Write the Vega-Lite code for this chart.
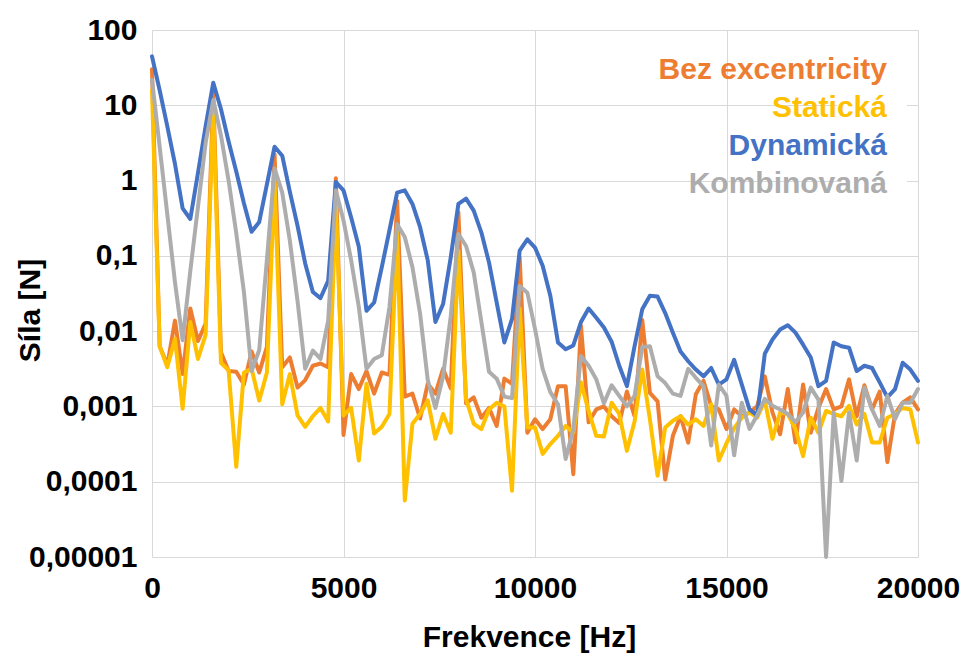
{
  "$schema": "https://vega.github.io/schema/vega-lite/v6.json",
  "width": 766,
  "height": 527,
  "autosize": {"type": "none"},
  "padding": {"left": 152, "top": 30, "right": 47, "bottom": 102},
  "background": "white",
  "config": {"view": {"stroke": null}, "font": "Liberation Sans"},
  "data": {
    "values": [
      {"f": 0, "Bez excentricity": 30.2, "Statická": 15.85, "Dynamická": 44.7, "Kombinovaná": 21.9},
      {"f": 200, "Bez excentricity": 6.31e-3, "Statická": 6.31e-3, "Dynamická": 15.85, "Kombinovaná": 2.82},
      {"f": 400, "Bez excentricity": 3.55e-3, "Statická": 3.31e-3, "Dynamická": 5.25, "Kombinovaná": 0.355},
      {"f": 600, "Bez excentricity": 1.38e-2, "Statická": 7.94e-3, "Dynamická": 1.66, "Kombinovaná": 4.47e-2},
      {"f": 800, "Bez excentricity": 2.69e-3, "Statická": 9.33e-4, "Dynamická": 0.427, "Kombinovaná": 7.59e-3},
      {"f": 1000, "Bez excentricity": 2.00e-2, "Statická": 1.32e-2, "Dynamická": 0.309, "Kombinovaná": 6.31e-2},
      {"f": 1200, "Bez excentricity": 7.41e-3, "Statická": 4.27e-3, "Dynamická": 1.26, "Kombinovaná": 0.447},
      {"f": 1400, "Bez excentricity": 1.26e-2, "Statická": 8.91e-3, "Dynamická": 5.25, "Kombinovaná": 3.16},
      {"f": 1600, "Bez excentricity": 14.45, "Statická": 9.33, "Dynamická": 19.95, "Kombinovaná": 11.75},
      {"f": 1800, "Bez excentricity": 5.25e-3, "Statická": 3.80e-3, "Dynamická": 8.91, "Kombinovaná": 3.98},
      {"f": 2000, "Bez excentricity": 2.95e-3, "Statická": 3.02e-3, "Dynamická": 3.31, "Kombinovaná": 1.0},
      {"f": 2200, "Bez excentricity": 2.88e-3, "Statická": 1.58e-4, "Dynamická": 1.32, "Kombinovaná": 0.2},
      {"f": 2400, "Bez excentricity": 1.95e-3, "Statická": 2.82e-3, "Dynamická": 0.501, "Kombinovaná": 3.31e-2},
      {"f": 2600, "Bez excentricity": 5.37e-3, "Statická": 3.16e-3, "Dynamická": 0.209, "Kombinovaná": 2.95e-3},
      {"f": 2800, "Bez excentricity": 2.82e-3, "Statická": 1.20e-3, "Dynamická": 0.282, "Kombinovaná": 5.62e-3},
      {"f": 3000, "Bez excentricity": 6.17e-3, "Statická": 2.82e-3, "Dynamická": 0.891, "Kombinovaná": 8.91e-2},
      {"f": 3200, "Bez excentricity": 2.24, "Statická": 1.0, "Dynamická": 2.82, "Kombinovaná": 1.45},
      {"f": 3400, "Bez excentricity": 3.31e-3, "Statická": 1.07e-3, "Dynamická": 2.14, "Kombinovaná": 0.692},
      {"f": 3600, "Bez excentricity": 4.47e-3, "Statická": 2.69e-3, "Dynamická": 0.708, "Kombinovaná": 0.158},
      {"f": 3800, "Bez excentricity": 1.78e-3, "Statická": 7.59e-4, "Dynamická": 0.251, "Kombinovaná": 2.51e-2},
      {"f": 4000, "Bez excentricity": 2.24e-3, "Statická": 5.37e-4, "Dynamická": 7.94e-2, "Kombinovaná": 3.16e-3},
      {"f": 4200, "Bez excentricity": 3.47e-3, "Statická": 7.41e-4, "Dynamická": 3.31e-2, "Kombinovaná": 5.50e-3},
      {"f": 4400, "Bez excentricity": 3.72e-3, "Statická": 9.55e-4, "Dynamická": 2.75e-2, "Kombinovaná": 4.27e-3},
      {"f": 4600, "Bez excentricity": 3.31e-3, "Statická": 6.31e-4, "Dynamická": 4.68e-2, "Kombinovaná": 1.38e-2},
      {"f": 4800, "Bez excentricity": 1.07, "Statická": 0.49, "Dynamická": 0.955, "Kombinovaná": 0.741},
      {"f": 5000, "Bez excentricity": 4.17e-4, "Statická": 7.59e-4, "Dynamická": 0.741, "Kombinovaná": 0.295},
      {"f": 5200, "Bez excentricity": 2.69e-3, "Statická": 9.55e-4, "Dynamická": 0.324, "Kombinovaná": 8.71e-2},
      {"f": 5400, "Bez excentricity": 1.70e-3, "Statická": 1.91e-4, "Dynamická": 0.132, "Kombinovaná": 2.09e-2},
      {"f": 5600, "Bez excentricity": 2.95e-3, "Statická": 2.00e-3, "Dynamická": 1.86e-2, "Kombinovaná": 3.16e-3},
      {"f": 5800, "Bez excentricity": 1.48e-3, "Statická": 4.37e-4, "Dynamická": 2.40e-2, "Kombinovaná": 4.27e-3},
      {"f": 6000, "Bez excentricity": 2.82e-3, "Statická": 5.37e-4, "Dynamická": 7.08e-2, "Kombinovaná": 4.79e-3},
      {"f": 6200, "Bez excentricity": 2.63e-3, "Statická": 7.94e-4, "Dynamická": 0.219, "Kombinovaná": 2.09e-2},
      {"f": 6400, "Bez excentricity": 0.537, "Statická": 0.209, "Dynamická": 0.692, "Kombinovaná": 0.263},
      {"f": 6600, "Bez excentricity": 1.35e-3, "Statická": 5.62e-5, "Dynamická": 0.741, "Kombinovaná": 0.178},
      {"f": 6800, "Bez excentricity": 1.48e-3, "Statická": 5.89e-4, "Dynamická": 0.49, "Kombinovaná": 7.08e-2},
      {"f": 7000, "Bez excentricity": 6.92e-4, "Statická": 7.94e-4, "Dynamická": 0.24, "Kombinovaná": 1.70e-2},
      {"f": 7200, "Bez excentricity": 2.00e-3, "Statická": 1.20e-3, "Dynamická": 8.71e-2, "Kombinovaná": 2.24e-3},
      {"f": 7400, "Bez excentricity": 1.48e-3, "Statická": 3.72e-4, "Dynamická": 1.32e-2, "Kombinovaná": 9.55e-4},
      {"f": 7600, "Bez excentricity": 3.16e-3, "Statická": 7.94e-4, "Dynamická": 2.29e-2, "Kombinovaná": 2.51e-3},
      {"f": 7800, "Bez excentricity": 1.74e-3, "Statická": 4.47e-4, "Dynamická": 9.55e-2, "Kombinovaná": 1.58e-2},
      {"f": 8000, "Bez excentricity": 0.38, "Statická": 0.117, "Dynamická": 0.49, "Kombinovaná": 0.195},
      {"f": 8200, "Bez excentricity": 1.10e-3, "Statická": 1.26e-3, "Dynamická": 0.575, "Kombinovaná": 0.135},
      {"f": 8400, "Bez excentricity": 1.32e-3, "Statická": 5.89e-4, "Dynamická": 0.398, "Kombinovaná": 6.03e-2},
      {"f": 8600, "Bez excentricity": 7.08e-4, "Statická": 5.01e-4, "Dynamická": 0.204, "Kombinovaná": 1.32e-2},
      {"f": 8800, "Bez excentricity": 9.55e-4, "Statická": 9.12e-4, "Dynamická": 8.13e-2, "Kombinovaná": 2.88e-3},
      {"f": 9000, "Bez excentricity": 5.50e-4, "Statická": 1.12e-3, "Dynamická": 2.40e-2, "Kombinovaná": 2.34e-3},
      {"f": 9200, "Bez excentricity": 2.34e-3, "Statická": 1.00e-3, "Dynamická": 7.08e-3, "Kombinovaná": 1.35e-3},
      {"f": 9400, "Bez excentricity": 2.00e-3, "Statická": 7.59e-5, "Dynamická": 1.45e-2, "Kombinovaná": 1.29e-3},
      {"f": 9600, "Bez excentricity": 9.55e-2, "Statická": 2.00e-2, "Dynamická": 0.117, "Kombinovaná": 3.98e-2},
      {"f": 9800, "Bez excentricity": 4.47e-4, "Statická": 5.25e-4, "Dynamická": 0.166, "Kombinovaná": 3.24e-2},
      {"f": 10000, "Bez excentricity": 6.76e-4, "Statická": 5.25e-4, "Dynamická": 0.129, "Kombinovaná": 1.07e-2},
      {"f": 10200, "Bez excentricity": 5.01e-4, "Statická": 2.34e-4, "Dynamická": 7.41e-2, "Kombinovaná": 3.16e-3},
      {"f": 10400, "Bez excentricity": 6.76e-4, "Statická": 3.16e-4, "Dynamická": 2.95e-2, "Kombinovaná": 1.55e-3},
      {"f": 10600, "Bez excentricity": 1.86e-3, "Statická": 4.07e-4, "Dynamická": 7.08e-3, "Kombinovaná": 1.07e-3},
      {"f": 10800, "Bez excentricity": 1.86e-3, "Statická": 5.50e-4, "Dynamická": 5.75e-3, "Kombinovaná": 2.00e-4},
      {"f": 11000, "Bez excentricity": 1.26e-4, "Statická": 4.47e-4, "Dynamická": 6.46e-3, "Kombinovaná": 5.01e-4},
      {"f": 11200, "Bez excentricity": 1.17e-2, "Statická": 2.09e-3, "Dynamická": 1.32e-2, "Kombinovaná": 4.68e-3},
      {"f": 11400, "Bez excentricity": 6.17e-4, "Statická": 8.71e-4, "Dynamická": 2.00e-2, "Kombinovaná": 3.47e-3},
      {"f": 11600, "Bez excentricity": 9.12e-4, "Statická": 4.07e-4, "Dynamická": 1.51e-2, "Kombinovaná": 2.29e-3},
      {"f": 11800, "Bez excentricity": 1.00e-3, "Statická": 3.98e-4, "Dynamická": 1.12e-2, "Kombinovaná": 1.10e-3},
      {"f": 12000, "Bez excentricity": 7.41e-4, "Statická": 1.12e-3, "Dynamická": 7.24e-3, "Kombinovaná": 1.91e-3},
      {"f": 12200, "Bez excentricity": 6.03e-4, "Statická": 7.94e-4, "Dynamická": 3.47e-3, "Kombinovaná": 1.38e-3},
      {"f": 12400, "Bez excentricity": 1.58e-3, "Statická": 2.57e-4, "Dynamická": 1.86e-3, "Kombinovaná": 1.00e-3},
      {"f": 12600, "Bez excentricity": 7.41e-4, "Statická": 6.31e-4, "Dynamická": 6.31e-3, "Kombinovaná": 1.38e-3},
      {"f": 12800, "Bez excentricity": 1.41e-2, "Statická": 3.09e-3, "Dynamická": 1.95e-2, "Kombinovaná": 6.17e-3},
      {"f": 13000, "Bez excentricity": 1.51e-3, "Statická": 6.76e-4, "Dynamická": 2.95e-2, "Kombinovaná": 6.31e-3},
      {"f": 13200, "Bez excentricity": 1.17e-3, "Statická": 1.20e-4, "Dynamická": 2.88e-2, "Kombinovaná": 2.51e-3},
      {"f": 13400, "Bez excentricity": 1.07e-4, "Statická": 5.25e-4, "Dynamická": 1.74e-2, "Kombinovaná": 2.04e-3},
      {"f": 13600, "Bez excentricity": 4.07e-4, "Statická": 6.46e-4, "Dynamická": 9.55e-3, "Kombinovaná": 1.48e-3},
      {"f": 13800, "Bez excentricity": 7.41e-4, "Statická": 7.41e-4, "Dynamická": 5.37e-3, "Kombinovaná": 1.38e-3},
      {"f": 14000, "Bez excentricity": 3.31e-4, "Statická": 5.75e-4, "Dynamická": 3.98e-3, "Kombinovaná": 3.16e-3},
      {"f": 14200, "Bez excentricity": 1.45e-3, "Statická": 6.76e-4, "Dynamická": 3.09e-3, "Kombinovaná": 2.40e-3},
      {"f": 14400, "Bez excentricity": 2.19e-3, "Statická": 5.50e-4, "Dynamická": 2.51e-3, "Kombinovaná": 1.86e-3},
      {"f": 14600, "Bez excentricity": 1.00e-3, "Statická": 1.07e-3, "Dynamická": 3.24e-3, "Kombinovaná": 3.02e-4},
      {"f": 14800, "Bez excentricity": 9.12e-4, "Statická": 1.91e-4, "Dynamická": 1.95e-3, "Kombinovaná": 1.95e-3},
      {"f": 15000, "Bez excentricity": 5.01e-4, "Statická": 3.24e-4, "Dynamická": 2.29e-3, "Kombinovaná": 1.38e-3},
      {"f": 15200, "Bez excentricity": 9.12e-4, "Statická": 5.13e-4, "Dynamická": 4.17e-3, "Kombinovaná": 2.24e-4},
      {"f": 15400, "Bez excentricity": 7.41e-4, "Statická": 7.08e-4, "Dynamická": 1.95e-3, "Kombinovaná": 1.12e-3},
      {"f": 15600, "Bez excentricity": 8.32e-4, "Statická": 8.32e-4, "Dynamická": 9.12e-4, "Kombinovaná": 5.01e-4},
      {"f": 15800, "Bez excentricity": 1.00e-3, "Statická": 7.08e-4, "Dynamická": 7.59e-4, "Kombinovaná": 7.59e-4},
      {"f": 16000, "Bez excentricity": 2.51e-3, "Statická": 1.20e-3, "Dynamická": 5.01e-3, "Kombinovaná": 1.26e-3},
      {"f": 16200, "Bez excentricity": 8.32e-4, "Statická": 3.72e-4, "Dynamická": 7.76e-3, "Kombinovaná": 1.02e-3},
      {"f": 16400, "Bez excentricity": 4.27e-4, "Statická": 8.32e-4, "Dynamická": 1.05e-2, "Kombinovaná": 9.12e-4},
      {"f": 16600, "Bez excentricity": 1.70e-3, "Statická": 7.94e-4, "Dynamická": 1.20e-2, "Kombinovaná": 7.94e-4},
      {"f": 16800, "Bez excentricity": 3.31e-4, "Statická": 5.01e-4, "Dynamická": 9.55e-3, "Kombinovaná": 6.17e-4},
      {"f": 17000, "Bez excentricity": 1.95e-3, "Statická": 2.19e-4, "Dynamická": 6.61e-3, "Kombinovaná": 8.32e-4},
      {"f": 17200, "Bez excentricity": 4.47e-4, "Statická": 7.08e-4, "Dynamická": 4.47e-3, "Kombinovaná": 1.78e-3},
      {"f": 17400, "Bez excentricity": 9.55e-4, "Statická": 4.47e-4, "Dynamická": 1.86e-3, "Kombinovaná": 1.23e-3},
      {"f": 17600, "Bez excentricity": 1.70e-3, "Statická": 8.71e-4, "Dynamická": 2.19e-3, "Kombinovaná": 1.0e-5},
      {"f": 17800, "Bez excentricity": 9.12e-4, "Statická": 7.94e-4, "Dynamická": 7.08e-3, "Kombinovaná": 8.32e-4},
      {"f": 18000, "Bez excentricity": 1.00e-3, "Statická": 7.41e-4, "Dynamická": 6.31e-3, "Kombinovaná": 1.02e-4},
      {"f": 18200, "Bez excentricity": 2.29e-3, "Statická": 1.02e-3, "Dynamická": 6.03e-3, "Kombinovaná": 8.32e-4},
      {"f": 18400, "Bez excentricity": 7.41e-4, "Statická": 5.75e-4, "Dynamická": 2.95e-3, "Kombinovaná": 1.91e-4},
      {"f": 18600, "Bez excentricity": 1.91e-3, "Statická": 7.94e-4, "Dynamická": 3.47e-3, "Kombinovaná": 1.78e-3},
      {"f": 18800, "Bez excentricity": 9.12e-4, "Statická": 3.31e-4, "Dynamická": 3.24e-3, "Kombinovaná": 9.12e-4},
      {"f": 19000, "Bez excentricity": 1.58e-3, "Statická": 3.31e-4, "Dynamická": 2.09e-3, "Kombinovaná": 5.50e-4},
      {"f": 19200, "Bez excentricity": 1.82e-4, "Statická": 7.08e-4, "Dynamická": 1.32e-3, "Kombinovaná": 1.38e-3},
      {"f": 19400, "Bez excentricity": 7.94e-4, "Statická": 7.94e-4, "Dynamická": 1.70e-3, "Kombinovaná": 6.76e-4},
      {"f": 19600, "Bez excentricity": 1.12e-3, "Statická": 9.55e-4, "Dynamická": 3.80e-3, "Kombinovaná": 1.12e-3},
      {"f": 19800, "Bez excentricity": 1.32e-3, "Statická": 9.12e-4, "Dynamická": 3.09e-3, "Kombinovaná": 1.12e-3},
      {"f": 20000, "Bez excentricity": 9.12e-4, "Statická": 3.31e-4, "Dynamická": 2.19e-3, "Kombinovaná": 1.70e-3}
    ]
  },
  "transform": [
    {"fold": ["Bez excentricity", "Statická", "Dynamická", "Kombinovaná"], "as": ["serie", "sila"]}
  ],
  "mark": {"type": "line", "strokeWidth": 4, "strokeJoin": "round", "strokeCap": "round"},
  "encoding": {
    "x": {
      "field": "f",
      "type": "quantitative",
      "scale": {"domain": [0, 20000], "nice": false},
      "axis": {
        "values": [0, 5000, 10000, 15000, 20000],
        "format": "d",
        "title": "Frekvence [Hz]",
        "grid": true,
        "gridColor": "#D9D9D9",
        "gridWidth": 1,
        "ticks": false,
        "domain": false,
        "labelFont": "Liberation Sans",
        "labelFontSize": 30,
        "labelFontWeight": "bold",
        "labelColor": "#000000",
        "labelPadding": 16,
        "labelFlush": false,
        "titleFont": "Liberation Sans",
        "titleFontSize": 30,
        "titleFontWeight": "bold",
        "titleColor": "#000000",
        "titleX": 377,
        "titleY": 80,
        "titleAnchor": "middle",
        "titleBaseline": "middle"
      }
    },
    "y": {
      "field": "sila",
      "type": "quantitative",
      "scale": {"type": "log", "domain": [1e-5, 100], "nice": false},
      "axis": {
        "values": [0.00001, 0.0001, 0.001, 0.01, 0.1, 1, 10, 100],
        "labelExpr": "replace('' + datum.value, '.', ',')",
        "title": "Síla [N]",
        "grid": true,
        "gridColor": "#D9D9D9",
        "gridWidth": 1,
        "ticks": false,
        "domain": false,
        "labelFont": "Liberation Sans",
        "labelFontSize": 30,
        "labelFontWeight": "bold",
        "labelColor": "#000000",
        "labelPadding": 15,
        "labelFlush": false,
        "titleFont": "Liberation Sans",
        "titleFontSize": 30,
        "titleFontWeight": "bold",
        "titleColor": "#000000",
        "titleAngle": 270,
        "titleX": -122,
        "titleY": 280,
        "titleAlign": "center",
        "titleBaseline": "middle"
      }
    },
    "color": {
      "field": "serie",
      "type": "nominal",
      "scale": {
        "domain": ["Bez excentricity", "Statická", "Dynamická", "Kombinovaná"],
        "range": ["#ED7D31", "#FFC000", "#4472C4", "#ADADAD"]
      },
      "legend": {
        "orient": "none",
        "legendX": 685,
        "legendY": 5,
        "title": null,
        "symbolOpacity": 0,
        "symbolSize": 0,
        "symbolStrokeWidth": 0,
        "labelFont": "Liberation Sans",
        "labelFontSize": 30,
        "labelFontWeight": "bold",
        "labelAlign": "right",
        "labelOffset": 0,
        "labelLimit": 400,
        "rowPadding": 8,
        "fillColor": "white",
        "padding": 20,
        "encode": {"labels": {"update": {"fill": {"scale": "color", "field": "value"}}}}
      }
    }
  }
}
